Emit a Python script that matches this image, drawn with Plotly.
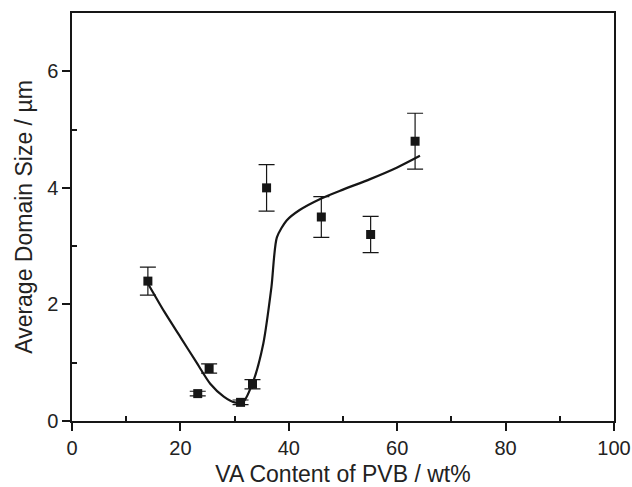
import plotly.graph_objects as go

# measured points
va_content = [14, 23.2, 25.3, 31.1, 33.3, 35.9, 46.0, 55.1, 63.3]
domain_size = [2.40, 0.47, 0.90, 0.32, 0.63, 4.00, 3.50, 3.20, 4.80]
size_error = [0.24, 0.04, 0.08, 0.04, 0.08, 0.40, 0.35, 0.31, 0.48]

# guide curve
curve_x = [14, 17, 20, 23, 25.5, 28, 30, 31.6, 33.4, 35.3, 36.8, 37.8, 39.6, 42, 45.8, 50, 55, 60, 64.2]
curve_y = [2.36, 1.88, 1.44, 1.00, 0.64, 0.42, 0.32, 0.33, 0.67, 1.33, 2.30, 3.15, 3.44, 3.62, 3.81, 3.97, 4.15, 4.35, 4.55]

ink = "#161616"
font = "Liberation Sans, Arial, sans-serif"

fig = go.Figure()
fig.add_trace(go.Scatter(
    x=curve_x, y=curve_y, mode="lines",
    line=dict(color=ink, width=2.2, shape="spline", smoothing=0.7),
    showlegend=False, hoverinfo="skip"))
fig.add_trace(go.Scatter(
    x=va_content, y=domain_size, mode="markers",
    marker=dict(symbol="square", size=9, color=ink),
    error_y=dict(type="data", array=size_error, visible=True,
                 color=ink, thickness=1.2, width=8),
    showlegend=False))

fig.update_layout(
    width=632, height=487,
    margin=dict(l=72, r=18, t=13, b=66),
    paper_bgcolor="white", plot_bgcolor="white",
    font=dict(family=font, size=20, color="#222"),
)
fig.update_xaxes(
    range=[0, 100], tickvals=[0, 20, 40, 60, 80, 100],
    showline=True, linecolor=ink, linewidth=1.5, mirror=True,
    ticks="outside", ticklen=8, tickcolor=ink, tickwidth=1.5,
    minor=dict(tickvals=[10, 30, 50, 70, 90], ticks="inside", ticklen=5, tickcolor=ink, tickwidth=1.5),
    showgrid=False, zeroline=False, automargin=False,
    tickfont=dict(size=20),
    title=dict(text="VA Content of PVB / wt%", font=dict(size=23), standoff=16),
)
fig.update_yaxes(
    range=[0, 7], tickvals=[0, 2, 4, 6],
    showline=True, linecolor=ink, linewidth=1.5, mirror=True,
    ticks="outside", ticklen=8, tickcolor=ink, tickwidth=1.5,
    minor=dict(tickvals=[1, 3, 5], ticks="inside", ticklen=5, tickcolor=ink, tickwidth=1.5),
    showgrid=False, zeroline=False, automargin=False,
    tickfont=dict(size=20),
    title=dict(text="Average Domain Size / µm", font=dict(size=23), standoff=8),
)

fig.write_html("out.html")
